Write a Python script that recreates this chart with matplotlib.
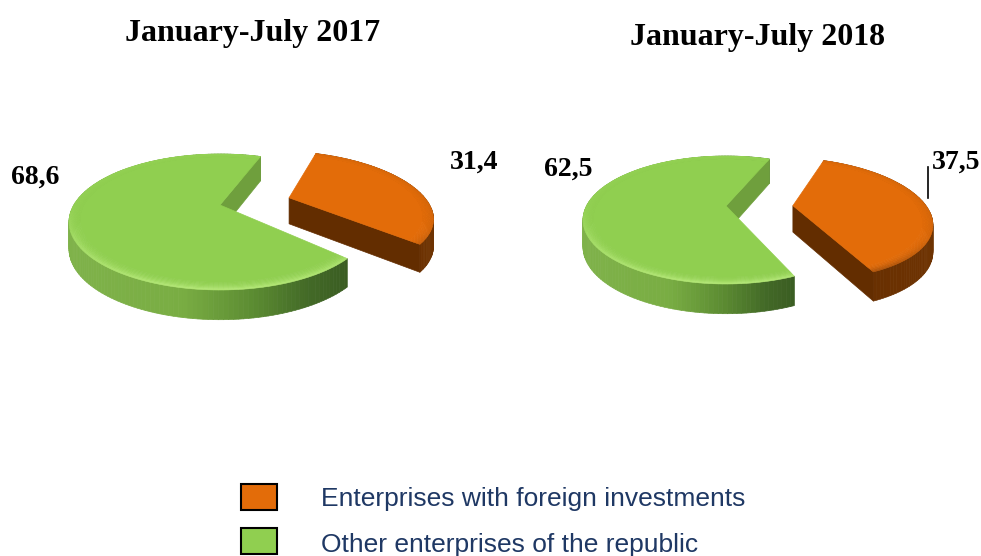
import numpy as np
import matplotlib
matplotlib.use("Agg")
import matplotlib.pyplot as plt
from matplotlib.collections import PolyCollection
from matplotlib.colors import to_rgb
from matplotlib.patches import Rectangle

TITLES = ["January-July 2017", "January-July 2018"]
FOREIGN_SHARE = [31.4, 37.5]
OTHER_SHARE = [68.6, 62.5]
LEGEND_LABELS = ["Enterprises with foreign investments", "Other enterprises of the republic"]

ORANGE = "#E36C09"
GREEN = "#90CF50"
TEXT_BLUE = "#1F3864"

# screen geometry of each pie, in pixels
PIES = [
    dict(cx=220, cy=222, rx=151, ry=68, tilt=0.25, depth=27, start=70, explode=0.5),
    dict(cx=726, cy=220, rx=143, ry=64, tilt=0.22, depth=27, start=68, explode=0.48),
]
ORANGE_RADIUS = 0.955
BEVEL = 0.07
BEVEL_STEPS = 7


def blend(c1, c2, t):
    return tuple((1 - t) * a + t * b for a, b in zip(to_rgb(c1), to_rgb(c2)))


def project(x, y, geo):
    a = geo["tilt"]
    s = np.sqrt(1 - a * a)
    w = 1 + a * y
    return geo["cx"] + geo["rx"] * x * s / w, geo["cy"] - geo["ry"] * (y + a) / w


def drop(y_world, geo):
    a = geo["tilt"]
    return geo["depth"] * (1 - 0.1 * (y_world + a) / (1 + a * y_world))


def green_side(frac):
    stops = [0.0, 0.4, 0.65, 0.85, 1.0]
    cols = ["#7FB24A", "#79AD43", "#5C8C32", "#436A27", "#3A5C22"]
    rgb = np.array([to_rgb(c) for c in cols])
    return tuple(np.interp(frac, stops, rgb[:, i]) for i in range(3))


def orange_side(frac):
    return blend("#642D00", "#6E3302", frac)


def green_rim(theta):
    return blend("#93D154", "#B0E572", max(0.0, -np.sin(theta)))


def orange_rim(theta):
    return blend("#D8680A", "#984808", max(0.0, -np.sin(theta + 0.5)))


def draw_slice(ax, geo, theta1, theta2, ox, oy, radius, top, side, rim, face):
    thetas = np.radians(np.arange(theta1, theta2 + 0.01, 1.5))

    def world(r, t):
        return ox + r * radius * np.cos(t), oy + r * radius * np.sin(t)

    arc_x = project(*world(1, thetas), geo)[0]
    x0, x1 = arc_x.min(), arc_x.max()

    # outer wall
    polys, cols = [], []
    for t1, t2 in zip(thetas[:-1], thetas[1:]):
        wx1, wy1 = world(1, t1)
        wx2, wy2 = world(1, t2)
        px1, py1 = project(wx1, wy1, geo)
        px2, py2 = project(wx2, wy2, geo)
        polys.append([(px1, py1), (px2, py2),
                      (px2, py2 + drop(wy2, geo)), (px1, py1 + drop(wy1, geo))])
        cols.append(side((px1 - x0) / (x1 - x0)))
    ax.add_collection(PolyCollection(polys, facecolors=cols, edgecolors=cols, linewidths=0.5))

    # radial face at the start of the slice
    vx, vy = project(ox, oy, geo)
    wx, wy = world(1, thetas[0])
    sx, sy = project(wx, wy, geo)
    ax.fill([vx, sx, sx, vx], [vy, sy, sy + drop(wy, geo), vy + drop(oy, geo)],
            color=face, lw=0.5)

    # top surface with a bevelled rim
    wx, wy = world(1 - BEVEL, thetas)
    px, py = project(wx, wy, geo)
    ax.fill(np.r_[vx, px], np.r_[vy, py], color=top, lw=0.5)

    polys, cols = [], []
    radii = np.linspace(1 - BEVEL, 1, BEVEL_STEPS + 1)
    for k, (r1, r2) in enumerate(zip(radii[:-1], radii[1:])):
        level = ((k + 1) / BEVEL_STEPS) ** 2
        for t1, t2 in zip(thetas[:-1], thetas[1:]):
            pts = [project(*world(r1, t1), geo), project(*world(r1, t2), geo),
                   project(*world(r2, t2), geo), project(*world(r2, t1), geo)]
            polys.append(pts)
            cols.append(blend(top, rim((t1 + t2) / 2), level))
    ax.add_collection(PolyCollection(polys, facecolors=cols, edgecolors=cols, linewidths=0.4))


def main():
    plt.rcParams["font.family"] = ["Liberation Serif", "DejaVu Serif"]
    fig = plt.figure(figsize=(9.81, 5.56), dpi=100)
    ax = fig.add_axes([0, 0, 1, 1])
    ax.set_xlim(0, 981)
    ax.set_ylim(556, 0)
    ax.axis("off")

    for geo, foreign, other in zip(PIES, FOREIGN_SHARE, OTHER_SHARE):
        total = foreign + other
        g_start = geo["start"]
        g_end = g_start + other / total * 360
        o_end = g_end + foreign / total * 360
        mid = np.radians((g_end + o_end) / 2)
        ox = geo["explode"] * np.cos(mid)
        oy = geo["explode"] * np.sin(mid)
        draw_slice(ax, geo, g_start, g_end, 0, 0, 1, GREEN, green_side, green_rim, "#6F9F3D")
        draw_slice(ax, geo, g_end, o_end, ox, oy, ORANGE_RADIUS, ORANGE, orange_side, orange_rim, "#632D00")

    ax.text(253, 34, TITLES[0], ha="center", va="center", fontsize=23, fontweight="bold")
    ax.text(758, 37, TITLES[1], ha="center", va="center", fontsize=23, fontweight="bold")

    label_xy = [(35, 177), (474, 162), (568, 169), (956, 162)]
    label_vals = [OTHER_SHARE[0], FOREIGN_SHARE[0], OTHER_SHARE[1], FOREIGN_SHARE[1]]
    for (x, y), val in zip(label_xy, label_vals):
        ax.text(x, y, f"{val:.1f}".replace(".", ","), ha="center", va="center",
                fontsize=20, fontweight="bold")

    ax.plot([928, 928], [167, 198], color="black", lw=1.2)

    swatches = [(ORANGE, 484, 499), (GREEN, 528, 545)]
    for (color, y, text_y), label in zip(swatches, LEGEND_LABELS):
        ax.add_patch(Rectangle((241, y), 36, 26, facecolor=color, edgecolor="black", lw=1.5))
        ax.text(321, text_y, label, ha="left", va="center", fontsize=19,
                color=TEXT_BLUE, family=["Liberation Sans", "DejaVu Sans"])

    fig.savefig("out.png", dpi=100)
    plt.close(fig)


if __name__ == "__main__":
    main()
